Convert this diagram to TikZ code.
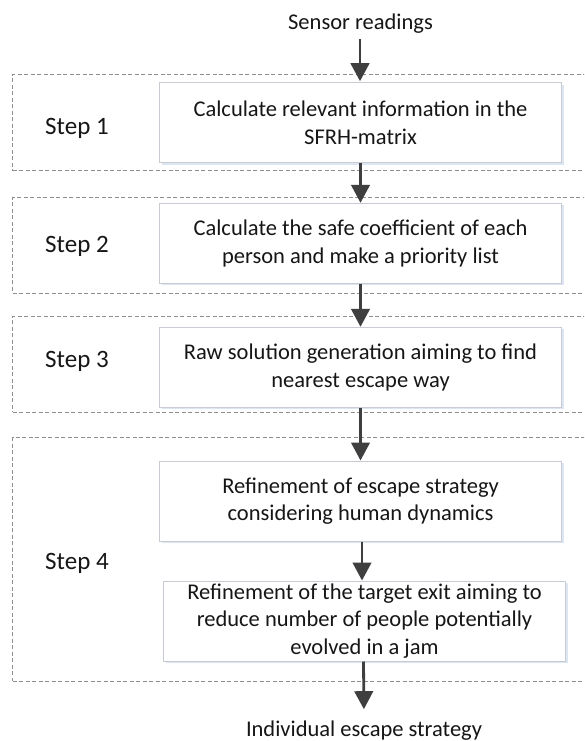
\documentclass[tikz,border=0pt]{standalone}
\usepackage{fontspec}
\setmainfont{Carlito}
\usetikzlibrary{arrows.meta,shadows}
\definecolor{framegray}{HTML}{8E8E8E}
\definecolor{boxborder}{HTML}{C8CCD2}
\definecolor{boxshadow}{HTML}{DCE6F2}
\definecolor{arrowgray}{HTML}{3F3F3F}
\definecolor{txt}{HTML}{161616}
\begin{document}
\begin{tikzpicture}[x=1pt,y=-1pt,
  every node/.style={text=txt,font=\fontsize{22.5}{27.5}\selectfont},
  stepframe/.style={draw=framegray,line width=0.9pt,dash pattern=on 4pt off 2.5pt,minimum width=600pt,inner sep=0pt},
  procbox/.style={draw=boxborder,line width=1pt,fill=white,minimum width=402pt,minimum height=80pt,align=center,inner sep=2pt,
    drop shadow={shadow xshift=2pt,shadow yshift=-2pt,fill=boxshadow,opacity=1}},
  steplabel/.style={anchor=base west,inner sep=0pt,font=\fontsize{25}{30}\selectfont},
  arr/.style={draw=arrowgray,line width=2.8pt,-{Triangle[length=18pt,width=18.5pt]}}]
\useasboundingbox (0,0) rectangle (584,741);
\clip (0,0) rectangle (584,741);
\fill[white] (0,0) rectangle (584,741);

% dashed step frames
\node[stepframe,minimum height=96pt] (frame1) at (312.7,122.5) {};
\node[stepframe,minimum height=95.5pt] (frame2) at (312.7,245.3) {};
\node[stepframe,minimum height=96pt] (frame3) at (312.7,364) {};
\node[stepframe,minimum height=243.5pt] (frame4) at (312.7,559.3) {};

% step labels
\node[steplabel] (s1) at (45,134.3) {Step 1};
\node[steplabel] (s2) at (45,252) {Step 2};
\node[steplabel] (s3) at (45,367) {Step 3};
\node[steplabel] (s4) at (45,569) {Step 4};

% input / output texts
\node[anchor=base,inner sep=0pt] (in) at (360.5,29.3) {Sensor readings};
\node[anchor=base,inner sep=0pt] (out) at (364,736) {Individual escape strategy};

% process boxes
\node[procbox] (b1) at (360.5,122.7) {Calculate relevant information in the\\SFRH-matrix};
\node[procbox] (b2) at (360.5,243.3) {Calculate the safe coefficient of each\\person and make a priority list};
\node[procbox] (b3) at (360.5,367.3) {Raw solution generation aiming to find\\nearest escape way};
\node[procbox] (b4) at (360.5,501) {Refinement of escape strategy\\considering human dynamics};
\node[procbox] (b5) at (364.5,621) {Refinement of the target exit aiming to\\reduce number of people potentially\\evolved in a jam};

% connectors
\draw[arr,shorten <=6pt,shorten >=1pt] ([xshift=-0.5pt]in.south) -- ([xshift=-0.5pt]b1.north);
\draw[arr] (b1.south) -- (b2.north);
\draw[arr] (b2.south) -- (b3.north);
\draw[arr] (b3.south) -- (b4.north);
\draw[arr] ([xshift=1.5pt]b4.south) -- ([xshift=-2.5pt]b5.north);
\draw[arr,shorten >=11pt] ([xshift=-1pt]b5.south) -- (out.north);
\end{tikzpicture}
\end{document}
